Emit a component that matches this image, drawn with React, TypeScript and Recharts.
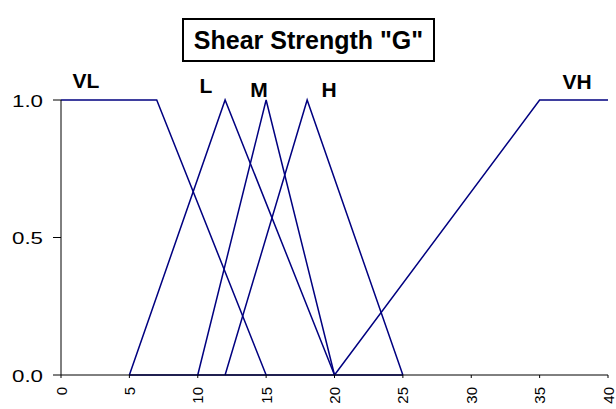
import React from "react";
import { LineChart, Line, XAxis, YAxis } from "recharts";

const VL = [{ x: 0, y: 1 }, { x: 7, y: 1 }, { x: 15, y: 0 }];
const L = [{ x: 5, y: 0 }, { x: 12, y: 1 }, { x: 20, y: 0 }];
const M = [{ x: 10, y: 0 }, { x: 15, y: 1 }, { x: 20, y: 0 }];
const H = [{ x: 12, y: 0 }, { x: 18, y: 1 }, { x: 25, y: 0 }];
const VH = [{ x: 20, y: 0 }, { x: 35, y: 1 }, { x: 40, y: 1 }];
const BASE = [{ x: 5, y: 0 }, { x: 25, y: 0 }];
const xTicks = [0, 5, 10, 15, 20, 25, 30, 35, 40];
const yTicks = [0, 0.5, 1];
const title = 'Shear Strength "G"';
const seriesLabels = [
  { text: "VL", left: 86, top: 80 },
  { text: "L", left: 206, top: 85 },
  { text: "M", left: 259, top: 89 },
  { text: "H", left: 329, top: 89 },
  { text: "VH", left: 577, top: 81 },
];

const COLOR = "#000080";
const FONT = "Arial, 'Liberation Sans', sans-serif";

const XTick = (props: any) => {
  const { x, y, payload } = props;
  return (
    <text
      x={0}
      y={0}
      transform={`translate(${x},${y + 7}) rotate(-90)`}
      textAnchor="end"
      dominantBaseline="central"
      fontSize={15}
      fontFamily={FONT}
      fill="#000"
    >
      {payload.value}
    </text>
  );
};

const YTick = (props: any) => {
  const { y, payload } = props;
  return (
    <text
      x={43}
      y={y + 1}
      textAnchor="end"
      dominantBaseline="central"
      fontSize={17}
      fontFamily={FONT}
      fill="#000"
      textLength={31}
      lengthAdjust="spacingAndGlyphs"
    >
      {Number(payload.value).toFixed(1)}
    </text>
  );
};

const series = [
  { name: "VL", data: VL },
  { name: "L", data: L },
  { name: "M", data: M },
  { name: "H", data: H },
  { name: "VH", data: VH },
  { name: "base", data: BASE },
];

export default function App() {
  return (
    <div style={{ position: "absolute", left: 0, top: 0, width: 616, height: 409, background: "#fff" }}>
      <LineChart width={616} height={409} margin={{ top: 100, right: 8, bottom: 0, left: 0 }}>
        <XAxis
          type="number"
          dataKey="x"
          domain={[0, 40]}
          ticks={xTicks}
          interval={0}
          height={34}
          tick={<XTick />}
          tickSize={3}
          axisLine={{ stroke: "#000" }}
          tickLine={{ stroke: "#000" }}
          allowDuplicatedCategory={false}
        />
        <YAxis
          type="number"
          dataKey="y"
          domain={[0, 1]}
          ticks={yTicks}
          width={61}
          tick={<YTick />}
          tickSize={8}
          axisLine={{ stroke: "#000" }}
          tickLine={{ stroke: "#000" }}
        />
        {series.map((s) => (
          <Line
            key={s.name}
            data={s.data}
            dataKey="y"
            type="linear"
            stroke={COLOR}
            strokeWidth={1.5}
            dot={false}
            isAnimationActive={false}
          />
        ))}
      </LineChart>
      <div
        style={{
          position: "absolute",
          left: 182,
          top: 18,
          width: 249,
          height: 40,
          border: "2px solid #000",
          display: "flex",
          alignItems: "center",
          justifyContent: "center",
          fontFamily: FONT,
          fontWeight: "bold",
          fontSize: 25,
          background: "#fff",
          whiteSpace: "nowrap",
        }}
      >
        {title}
      </div>
      {seriesLabels.map((l) => (
        <div
          key={l.text}
          style={{
            position: "absolute",
            left: l.left,
            top: l.top,
            transform: "translate(-50%, -50%)",
            fontFamily: FONT,
            fontWeight: "bold",
            fontSize: 21,
            lineHeight: 1,
          }}
        >
          {l.text}
        </div>
      ))}
    </div>
  );
}
